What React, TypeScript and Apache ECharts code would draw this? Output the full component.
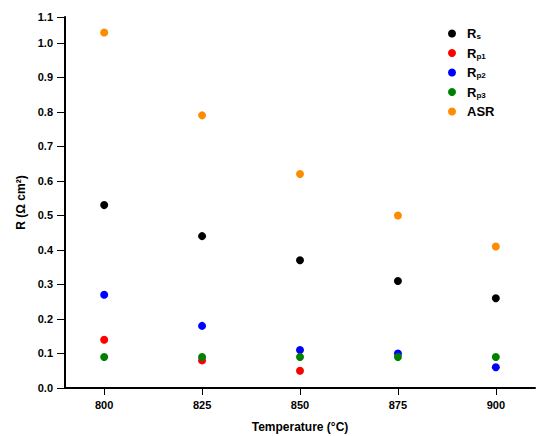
import React, { useEffect, useRef } from "react";
import * as echarts from "echarts";

const temperatures = [800, 825, 850, 875, 900];
const rs = [0.53, 0.44, 0.37, 0.31, 0.26];
const rp1 = [0.14, 0.08, 0.05];
const rp2 = [0.27, 0.18, 0.11, 0.1, 0.06];
const rp3 = [0.09, 0.09, 0.09, 0.09, 0.09];
const asr = [1.03, 0.79, 0.62, 0.5, 0.41];
const xTicks = [800, 825, 850, 875, 900];
const yTicks = [0, 0.1, 0.2, 0.3, 0.4, 0.5, 0.6, 0.7, 0.8, 0.9, 1.0, 1.075];
const yTickLabels = ["0.0", "0.1", "0.2", "0.3", "0.4", "0.5", "0.6", "0.7", "0.8", "0.9", "1.0", "1.1"];

const FONT = "'Liberation Sans', Arial, sans-serif";

function pairs(vals: number[]) {
  return vals.map((v, i) => [temperatures[i], v]);
}

export default function App() {
  const ref = useRef<HTMLDivElement>(null);
  useEffect(() => {
    if (!ref.current) return;
    const chart = echarts.init(ref.current, undefined, { renderer: "svg" });
    const mk = (name: string, data: number[], color: string) => ({
      name,
      type: "scatter",
      data: pairs(data),
      symbol: "circle",
      symbolSize: 8,
      itemStyle: { color, opacity: 1 },
    });
    const subs: Record<string, [string, string]> = {
      Rs: ["R", "s"],
      Rp1: ["R", "p1"],
      Rp2: ["R", "p2"],
      Rp3: ["R", "p3"],
      ASR: ["ASR", ""],
    };
    chart.setOption({
      animation: false,
      backgroundColor: "#ffffff",
      textStyle: { fontFamily: FONT },
      grid: {
        left: 65,
        right: 6,
        top: 17,
        bottom: 48,
        containLabel: false,
        outerBoundsMode: "none",
      },
      legend: {
        orient: "vertical",
        left: 448,
        top: 27,
        padding: 0,
        itemWidth: 8,
        itemHeight: 8,
        itemGap: 6,
        icon: "circle",
        data: ["Rs", "Rp1", "Rp2", "Rp3", "ASR"],
        formatter: (name: string) => {
          const [a, b] = subs[name];
          return b ? `{a|${a}}{b|${b}}` : `{a|${a}}`;
        },
        textStyle: {
          fontFamily: FONT,
          padding: [0, 0, 0, 6],
          rich: {
            a: { fontSize: 13, fontWeight: "bold", color: "#000", fontFamily: FONT, lineHeight: 14 },
            b: { fontSize: 8, fontWeight: "bold", color: "#000", fontFamily: FONT, lineHeight: 8, verticalAlign: "bottom" },
          },
        },
      },
      xAxis: {
        type: "value",
        min: 790,
        max: 910,
        name: "Temperature (°C)",
        nameLocation: "middle",
        nameGap: 33,
        nameTextStyle: { fontSize: 12, fontWeight: "bold", color: "#000", fontFamily: FONT },
        axisLine: { show: true, onZero: false, lineStyle: { color: "#000", width: 2 } },
        axisTick: { show: true, length: 7, lineStyle: { color: "#000", width: 1 }, customValues: xTicks },
        axisLabel: {
          customValues: xTicks,
          fontSize: 11,
          fontWeight: "bold",
          color: "#000",
          margin: 11,
          fontFamily: FONT,
        },
        splitLine: { show: false },
      },
      yAxis: {
        type: "value",
        min: 0,
        max: 1.075,
        name: "R (Ω cm²)",
        nameLocation: "middle",
        nameGap: 38,
        nameRotate: 90,
        nameTextStyle: { fontSize: 12, fontWeight: "bold", color: "#000", fontFamily: FONT },
        axisLine: { show: true, onZero: false, lineStyle: { color: "#000", width: 2 } },
        axisTick: { show: true, length: 8, lineStyle: { color: "#000", width: 1 }, customValues: yTicks },
        axisLabel: {
          customValues: yTicks,
          formatter: (v: number) => {
            const idx = yTicks.findIndex((t) => Math.abs(t - v) < 1e-6);
            return idx >= 0 ? yTickLabels[idx] : "";
          },
          fontSize: 11,
          fontWeight: "bold",
          color: "#000",
          margin: 12,
          fontFamily: FONT,
        },
        splitLine: { show: false },
      },
      series: [
        mk("Rs", rs, "#000000"),
        mk("Rp1", rp1, "#ff0000"),
        mk("Rp2", rp2, "#0000ff"),
        mk("Rp3", rp3, "#008000"),
        mk("ASR", asr, "#ff8c00"),
      ],
    });
    return () => chart.dispose();
  }, []);
  return (
    <div
      ref={ref}
      style={{ position: "fixed", left: 0, top: 0, width: 541, height: 436 }}
    />
  );
}
